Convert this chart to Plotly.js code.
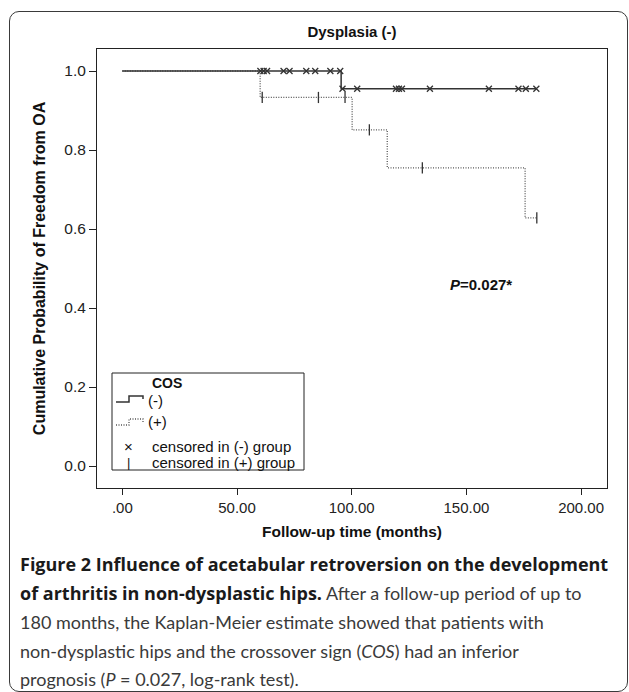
<!DOCTYPE html>
<html><head><meta charset="utf-8">
<script src="https://cdn.plot.ly/plotly-3.0.1.min.js"></script>
<style>
html,body{margin:0;padding:0;background:#fff;}
#chart{position:absolute;left:0;top:0;width:629px;height:692px;}
#frame{position:absolute;left:9px;top:11px;width:619px;height:681px;border:1.5px solid #3a3a3a;border-radius:10px;box-sizing:border-box;pointer-events:none;}
</style></head><body>
<div id="chart"></div>
<div id="frame"></div>
<script>
// ---- data ----
const xTickVals = [0, 50, 100, 150, 200];
const xTickText = ['.00', '50.00', '100.00', '150.00', '200.00'];
const yTickVals = [0, 0.2, 0.4, 0.6, 0.8, 1.0];
const yTickText = ['0.0', '0.2', '0.4', '0.6', '0.8', '1.0'];

// COS (-) group: event times and survival
const negTimes = [0, 95.4, 180.5];
const negSurv = [1.0, 0.955, 0.955];
// COS (+) group
const posTimes = [0, 60.1, 100.2, 115.5, 175.6, 180.7];
const posSurv = [1.0, 0.933, 0.851, 0.755, 0.628, 0.628];
// censored times
const negCensor = [60.2, 61.6, 63.1, 70.3, 72.9, 80.2, 84.1, 90.7, 95.0, 96.0, 102.4, 119.3, 120.6, 121.9, 134.1, 159.8, 172.7, 175.9, 180.5];
const posCensor = [61.0, 85.5, 97.1, 107.7, 130.8, 180.7];

function stepAt(times, surv, t) {
  let s = surv[0];
  for (let i = 0; i < times.length; i++) { if (t >= times[i]) s = surv[i]; }
  return s;
}

// ---- geometry helpers (pixel -> paper) ----
const L = 97, R = 607, T = 49, B = 488;
const px = p => (p - L) / (R - L);
const py = p => (B - p) / (B - T);

const AX = 'Liberation Sans, Arial, sans-serif';
const CAP = 'Lato, Open Sans, sans-serif';
const BOLDSPAN = s => `<b><span style="font-family:'Open Sans';font-size:18px;color:#1a1a1a">${s}</span></b>`;

const traces = [
  {x: posTimes, y: posSurv, mode: 'lines', line: {shape: 'hv', color: '#555', width: 1.3, dash: '1px,1.5px'}, name: '(+)', hoverinfo: 'skip'},
  {x: negTimes, y: negSurv, mode: 'lines', line: {shape: 'hv', color: '#333', width: 1.5}, name: '(-)', hoverinfo: 'skip'},
  {x: negCensor, y: negCensor.map(t => stepAt(negTimes, negSurv, t)), mode: 'markers',
   marker: {symbol: 'x-thin', size: 6, line: {width: 1.3, color: '#333'}, color: '#333'}, name: 'censored in (-) group'},
  {x: posCensor, y: posCensor.map(t => stepAt(posTimes, posSurv, t)), mode: 'markers',
   marker: {symbol: 'line-ns', size: 8, line: {width: 1.3, color: '#333'}, color: '#333'}, name: 'censored in (+) group'}
];

const legendText = [
  {t: '<b>COS</b>', x: 150, y: 383, size: 14, anchor: 'left'},
  {t: '(-)', x: 146, y: 400, size: 15, anchor: 'left'},
  {t: '(+)', x: 146, y: 421, size: 15, anchor: 'left'},
  {t: '×', x: 128, y: 446, size: 15, anchor: 'center'},
  {t: 'censored in (-) group', x: 150, y: 446, size: 15, anchor: 'left'},
  {t: '|', x: 128, y: 462, size: 13, anchor: 'center'},
  {t: 'censored in (+) group', x: 150, y: 462, size: 15, anchor: 'left'}
];

const captionLines = [
  {t: BOLDSPAN('Figure 2 Influence of acetabular retroversion on the development'), y: 564},
  {t: BOLDSPAN('of arthritis in non-dysplastic hips.') + ' After a follow-up period of up to', y: 593},
  {t: '180 months, the Kaplan-Meier estimate showed that patients with', y: 622},
  {t: 'non-dysplastic hips and the crossover sign (<i>COS</i>) had an inferior', y: 651},
  {t: 'prognosis (<i>P</i> = 0.027, log-rank test).', y: 679}
];

const annotations = [];
legendText.forEach(a => annotations.push({
  xref: 'paper', yref: 'paper', x: px(a.x), y: py(a.y), xanchor: a.anchor, yanchor: 'middle',
  text: a.t, showarrow: false, font: {family: AX, size: a.size, color: '#111'}
}));
annotations.push({
  xref: 'paper', yref: 'paper', x: px(448), y: py(284), xanchor: 'left', yanchor: 'middle',
  text: '<b><i>P</i>=0.027*</b>', showarrow: false, font: {family: AX, size: 15, color: '#111'}
});
captionLines.forEach(c => annotations.push({
  xref: 'paper', yref: 'paper', x: px(18), y: py(c.y), xanchor: 'left', yanchor: 'middle',
  text: c.t, showarrow: false, align: 'left', font: {family: CAP, size: 18, color: '#3a3a3a'}
}));

const stepPath = (x0, x1, x2, yl, yh, ye) =>
  `M ${px(x0)},${py(yl)} H ${px(x1)} V ${py(yh)} H ${px(x2)} V ${py(ye)}`;

const shapes = [
  {type: 'rect', xref: 'paper', yref: 'paper', x0: px(112), x1: px(304), y0: py(470), y1: py(373),
   line: {color: '#222', width: 1}, fillcolor: 'rgba(0,0,0,0)'},
  {type: 'path', xref: 'paper', yref: 'paper', path: stepPath(116, 129, 143, 402, 396, 399),
   line: {color: '#333', width: 1.5}},
  {type: 'path', xref: 'paper', yref: 'paper', path: stepPath(116, 129, 143, 425, 419, 422),
   line: {color: '#555', width: 1.3, dash: '1px,1.5px'}}
];

const layout = {
  width: 629, height: 692,
  margin: {l: L, r: 629 - R, t: T, b: 692 - B},
  paper_bgcolor: '#fff', plot_bgcolor: '#fff',
  showlegend: false,
  title: {text: '<b>Dysplasia (-)</b>', x: 0.5, xref: 'paper', y: 1 - 32 / 692, yref: 'container', yanchor: 'middle',
          font: {family: AX, size: 15, color: '#111'}},
  xaxis: {range: [-11.03, 211.3], tickvals: xTickVals, ticktext: xTickText, ticks: 'outside', ticklen: 6, tickcolor: '#222',
          showline: true, mirror: true, linecolor: '#222', linewidth: 1, showgrid: false, zeroline: false,
          tickfont: {family: AX, size: 15, color: '#222'},
          title: {text: '<b>Follow-up time (months)</b>', standoff: 11, font: {family: AX, size: 15.5, color: '#111'}}},
  yaxis: {range: [-0.0557, 1.0557], tickvals: yTickVals, ticktext: yTickText, ticks: 'outside', ticklen: 7, tickcolor: '#222',
          showline: true, mirror: true, linecolor: '#222', linewidth: 1, showgrid: false, zeroline: false,
          tickfont: {family: AX, size: 15.5, color: '#222'},
          title: {text: '<b>Cumulative Probability of Freedom from OA</b>', standoff: 14, font: {family: AX, size: 16, color: '#111'}}},
  annotations: annotations,
  shapes: shapes
};

Plotly.newPlot('chart', traces, layout, {staticPlot: true, displayModeBar: false});
</script>
</body></html>
